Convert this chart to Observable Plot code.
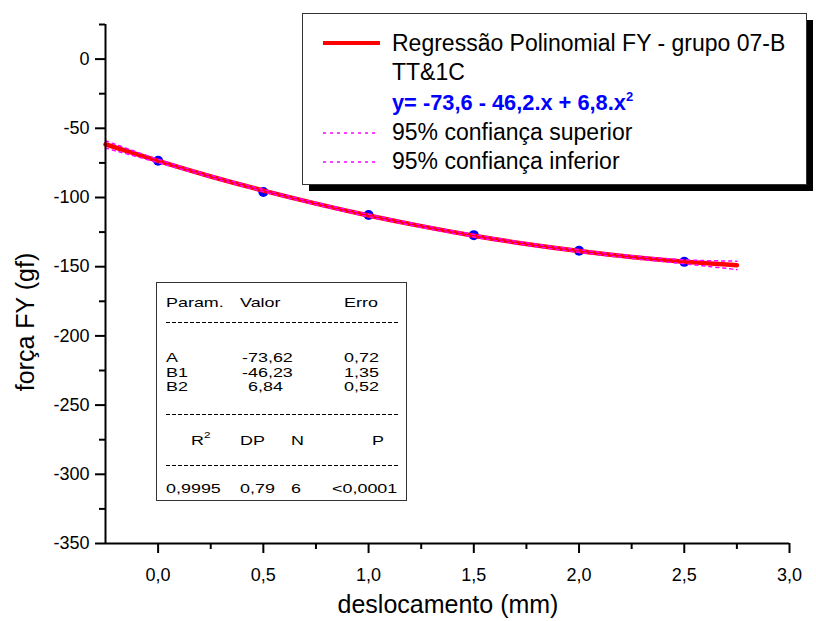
<!DOCTYPE html>
<html>
<head>
<meta charset="utf-8">
<script src="https://cdn.jsdelivr.net/npm/d3@7"></script>
<script src="https://cdn.jsdelivr.net/npm/@observablehq/plot@0.6"></script>
<style>
  html, body { margin: 0; padding: 0; background: #fff; }
  #chart { width: 816px; height: 621px; }
</style>
</head>
<body>
<div id="chart"></div>
<script>
// ---- data ----
const pointX = [0, 0.5, 1.0, 1.5, 2.0, 2.5];
const pointY = [-73.4, -96.0, -112.6, -127.2, -138.5, -146.5];

const fitX = [-0.25, 0, 0.25, 0.5, 0.75, 1.0, 1.25, 1.5, 1.75, 2.0, 2.25, 2.5, 2.75];
const fitY = [-61.6, -73.6, -84.8, -95.0, -104.4, -113.0, -120.7, -127.6, -133.6, -138.7, -143.0, -146.4, -149.0];
const upperY = [-59.0, -72.4, -83.9, -94.2, -103.6, -112.1, -119.8, -126.7, -132.7, -137.8, -142.0, -145.0, -146.0];
const lowerY = [-64.3, -74.8, -85.6, -95.8, -105.3, -113.9, -121.6, -128.5, -134.5, -139.6, -144.0, -147.9, -152.1];

const xTicks = [0, 0.5, 1.0, 1.5, 2.0, 2.5, 3.0];
const xMinor = [0.25, 0.75, 1.25, 1.75, 2.25, 2.75];
const yTicks = [-350, -300, -250, -200, -150, -100, -50, 0];
const yMinor = [-325, -275, -225, -175, -125, -75, -25, 25];

const xTitle = "deslocamento (mm)";
const yTitle = "força FY (gf)";

const legendItems = [
  {kind: "line", label: "Regressão Polinomial FY - grupo 07-B"},
  {kind: "text", label: "TT&1C"},
  {kind: "eq", label: "y= -73,6 - 46,2.x + 6,8.x", sup: "2"},
  {kind: "dots", label: "95% confiança superior"},
  {kind: "dots", label: "95% confiança inferior"}
];

const tableHeader = ["Param.", "Valor", "Erro"];
const tableParams = [
  ["A", "-73,62", "0,72"],
  ["B1", "-46,23", "1,35"],
  ["B2", "6,84", "0,52"]
];
const statHeader = ["R", "DP", "N", "P"];
const statValues = ["0,9995", "0,79", "6", "<0,0001"];

// ---- tables for the library ----
const points = pointX.map((x, i) => ({x, y: pointY[i]}));
const fit = fitX.map((x, i) => ({x, y: fitY[i]}));
const upper = fitX.map((x, i) => ({x, y: upperY[i]}));
const lower = fitX.map((x, i) => ({x, y: lowerY[i]}));

const FONT = "'Liberation Sans', Arial, sans-serif";
const fmtX = d => d.toFixed(1).replace(".", ",");
const fmtY = d => String(d);

const plot = Plot.plot({
  width: 816,
  height: 621,
  marginLeft: 105,
  marginRight: 27,
  marginTop: 24,
  marginBottom: 78,
  style: {fontFamily: FONT, background: "#fff", color: "#000"},
  x: {domain: [-0.25, 3.0]},
  y: {domain: [-350, 25]},
  marks: [
    Plot.dot(points, {x: "x", y: "y", r: 5, fill: "#0000ff", stroke: "none"}),
    Plot.line(fit, {x: "x", y: "y", stroke: "#ff0000", strokeWidth: 4.5, curve: "natural"}),
    Plot.line(upper, {x: "x", y: "y", stroke: "#ff00ff", strokeWidth: 1.5, strokeDasharray: "3,4", curve: "natural"}),
    Plot.line(lower, {x: "x", y: "y", stroke: "#ff00ff", strokeWidth: 1.5, strokeDasharray: "3,4", curve: "natural"}),
    Plot.axisX(xTicks, {tickSize: 10, tickPadding: 15, tickFormat: fmtX, fontSize: 18, strokeWidth: 2, label: null}),
    Plot.axisX(xMinor, {tickSize: 6, tickFormat: () => "", strokeWidth: 2, label: null}),
    Plot.axisY(yTicks, {tickSize: 10, tickPadding: 6, tickFormat: fmtY, fontSize: 18, strokeWidth: 2, label: null}),
    Plot.axisY(yMinor, {tickSize: 6, tickFormat: () => "", strokeWidth: 2, label: null}),
    Plot.ruleY([-350], {stroke: "#000", strokeWidth: 2}),
    Plot.ruleX([-0.25], {stroke: "#000", strokeWidth: 2})
  ]
});

document.getElementById("chart").appendChild(plot);

// ---- annotations (titles, legend, parameter table) ----
const svg = d3.select(plot);
const g = svg.append("g").attr("font-family", FONT).attr("fill", "#000").attr("text-anchor", "start");

g.append("text").attr("x", 448).attr("y", 613).attr("text-anchor", "middle")
  .attr("font-size", 25).text(xTitle);
g.append("text").attr("transform", "translate(34,322) rotate(-90)").attr("text-anchor", "middle")
  .attr("font-size", 25).text(yTitle);

// legend
g.append("rect").attr("x", 309).attr("y", 20).attr("width", 504).attr("height", 171).attr("fill", "#000");
g.append("rect").attr("x", 302.5).attr("y", 13.5).attr("width", 504).attr("height", 171)
  .attr("fill", "#fff").attr("stroke", "#333").attr("stroke-width", 1);
const legBase = [51, 80, 110, 140, 169];
legendItems.forEach((it, i) => {
  const yb = legBase[i];
  if (it.kind === "line") {
    g.append("line").attr("x1", 323).attr("x2", 380).attr("y1", yb - 8).attr("y2", yb - 8)
      .attr("stroke", "#ff0000").attr("stroke-width", 4);
  } else if (it.kind === "dots") {
    g.append("line").attr("x1", 323).attr("x2", 377).attr("y1", yb - 7).attr("y2", yb - 7)
      .attr("stroke", "#ff00ff").attr("stroke-width", 1.5).attr("stroke-dasharray", "3,4");
  }
  const t = g.append("text").attr("x", 392).attr("y", yb).attr("font-size", 23);
  if (it.kind === "eq") {
    t.attr("fill", "#0000ff").attr("font-weight", "bold").attr("font-size", 21.8);
    t.append("tspan").text(it.label);
    t.append("tspan").attr("font-size", 13).attr("dy", -9).text(it.sup);
  } else {
    t.text(it.label);
  }
});

// parameter table
g.append("rect").attr("x", 156.5).attr("y", 282.5).attr("width", 250).attr("height", 218)
  .attr("fill", "#fff").attr("stroke", "#333").attr("stroke-width", 1);
const TF = 13;
const SX = 1.38;
const addT = (x, y, s) => g.append("text")
  .attr("transform", `translate(${x},${y}) scale(${SX},1)`)
  .attr("font-size", TF).text(s);
const hdrX = [166, 240, 344];
tableHeader.forEach((s, i) => addT(hdrX[i], 307, s));
const dash = y => g.append("line").attr("x1", 166).attr("x2", 398).attr("y1", y).attr("y2", y)
  .attr("stroke", "#000").attr("stroke-width", 1).attr("stroke-dasharray", "4,2");
dash(322.5);
tableParams.forEach((row, r) => {
  const y = 362 + r * 14.5;
  addT(166, y, row[0]);
  addT(row[1].startsWith("-") ? 242 : 248, y, row[1]);
  addT(344, y, row[2]);
});
dash(414.5);
const statX = [191, 240, 291, 372];
statHeader.forEach((s, i) => {
  const t = addT(statX[i], 445, s);
  if (i === 0) t.append("tspan").attr("font-size", 8.5).attr("dy", -7).text("2");
});
dash(465.5);
const valX = [166, 240, 291, 332];
statValues.forEach((s, i) => addT(valX[i], 493, s));
</script>
</body>
</html>
